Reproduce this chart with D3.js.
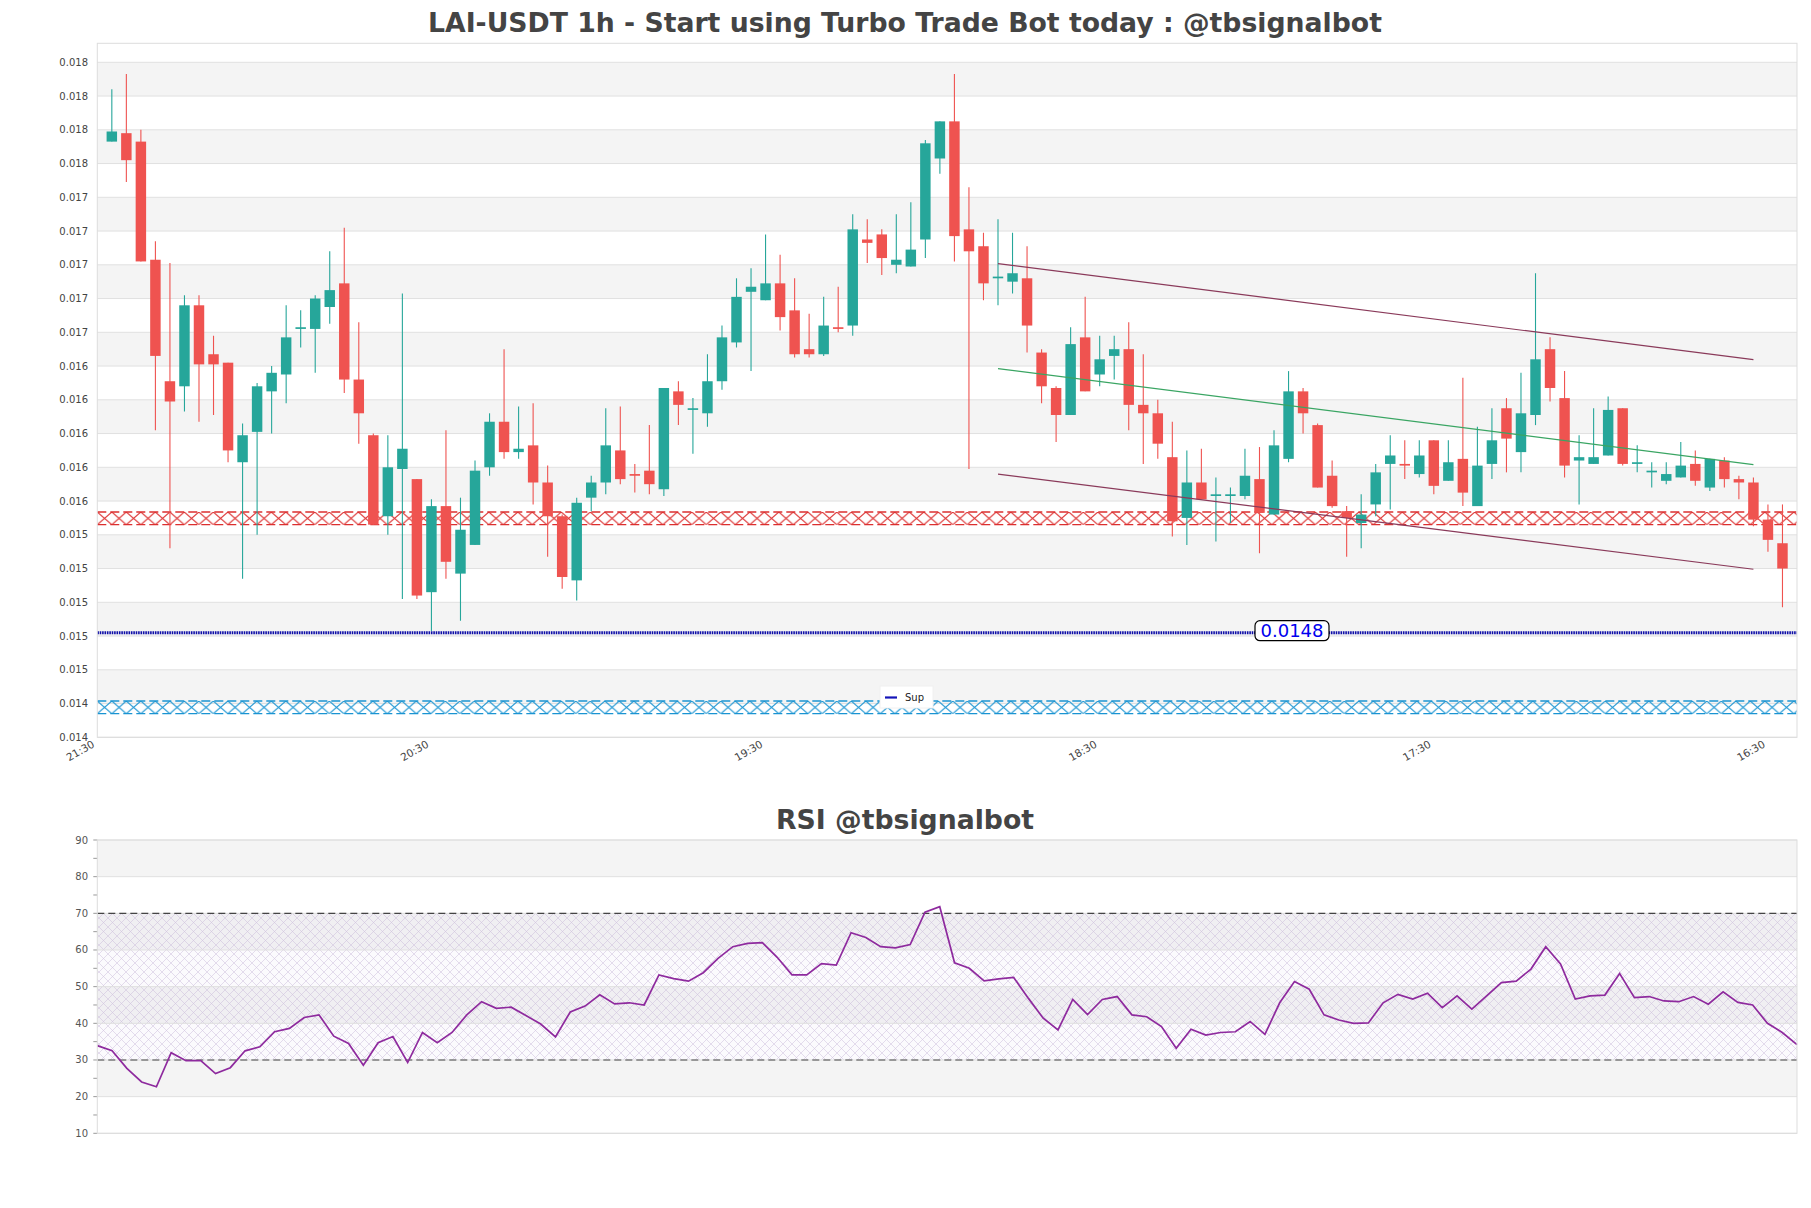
<!DOCTYPE html>
<html><head><meta charset="utf-8">
<script src="https://cdn.jsdelivr.net/npm/d3@7"></script>
<style>
html,body{margin:0;padding:0;background:#fff;}
svg{display:block;font-family:"DejaVu Sans",sans-serif;}
</style></head><body>
<svg id="c" width="1811" height="1208"></svg>
<script>
// ---------- DATA ----------
const openV = [0.01771,0.01776,0.01771,0.01701,0.01629,0.01626,0.01674,0.01645,0.01640,0.01581,
0.01599,0.01623,0.01633,0.01660,0.01660,0.01673,0.01687,0.01630,0.01597,0.01549,
0.01577,0.01571,0.01504,0.01555,0.01515,0.01532,0.01578,0.01605,0.01587,0.01591,
0.01569,0.01549,0.01511,0.01560,0.01569,0.01588,0.01574,0.01576,0.01565,0.01623,
0.01612,0.01610,0.01629,0.01652,0.01682,0.01677,0.01687,0.01671,0.01648,0.01645,
0.01661,0.01662,0.01713,0.01716,0.01698,0.01697,0.01713,0.01761,0.01783,0.01719,
0.01709,0.01690,0.01688,0.01690,0.01646,0.01625,0.01609,0.01655,0.01633,0.01644,
0.01648,0.01615,0.01610,0.01584,0.01548,0.01569,0.01561,0.01561,0.01561,0.01571,
0.01550,0.01583,0.01623,0.01603,0.01573,0.01552,0.01545,0.01556,0.01580,0.01580,
0.01574,0.01594,0.01570,0.01583,0.01555,0.01580,0.01613,0.01587,0.01609,0.01648,
0.01619,0.01582,0.01580,0.01585,0.01613,0.01580,0.01575,0.01570,0.01572,0.01580,
0.01566,0.01582,0.01571,0.01569,0.01547,0.01533];
const highV = [0.01802,0.01811,0.01778,0.01712,0.01699,0.01680,0.01680,0.01656,0.01640,0.01604,
0.01628,0.01638,0.01674,0.01671,0.01680,0.01706,0.01720,0.01664,0.01598,0.01597,
0.01681,0.01571,0.01559,0.01600,0.01560,0.01582,0.01610,0.01648,0.01614,0.01616,
0.01579,0.01550,0.01560,0.01573,0.01613,0.01614,0.01580,0.01603,0.01625,0.01629,
0.01619,0.01645,0.01662,0.01690,0.01696,0.01716,0.01704,0.01690,0.01669,0.01679,
0.01685,0.01728,0.01725,0.01719,0.01728,0.01735,0.01772,0.01783,0.01811,0.01744,
0.01717,0.01725,0.01717,0.01709,0.01648,0.01626,0.01661,0.01679,0.01656,0.01656,
0.01664,0.01645,0.01618,0.01605,0.01588,0.01589,0.01572,0.01566,0.01589,0.01590,
0.01600,0.01635,0.01625,0.01604,0.01582,0.01555,0.01562,0.01580,0.01597,0.01594,
0.01594,0.01594,0.01594,0.01631,0.01602,0.01613,0.01619,0.01634,0.01693,0.01655,
0.01635,0.01597,0.01613,0.01620,0.01613,0.01591,0.01581,0.01581,0.01593,0.01588,
0.01583,0.01584,0.01573,0.01572,0.01556,0.01556];
const lowV = [0.01771,0.01747,0.01700,0.01600,0.01530,0.01611,0.01605,0.01609,0.01581,0.01512,
0.01538,0.01598,0.01616,0.01649,0.01634,0.01663,0.01622,0.01592,0.01544,0.01538,
0.01500,0.01500,0.01481,0.01512,0.01487,0.01532,0.01573,0.01583,0.01583,0.01556,
0.01525,0.01506,0.01499,0.01552,0.01562,0.01568,0.01563,0.01562,0.01561,0.01603,
0.01586,0.01602,0.01624,0.01649,0.01635,0.01677,0.01659,0.01643,0.01643,0.01644,
0.01658,0.01656,0.01699,0.01692,0.01693,0.01697,0.01702,0.01752,0.01700,0.01577,
0.01677,0.01674,0.01681,0.01646,0.01616,0.01593,0.01609,0.01623,0.01626,0.01630,
0.01600,0.01580,0.01583,0.01537,0.01532,0.01559,0.01534,0.01545,0.01559,0.01527,
0.01550,0.01581,0.01598,0.01566,0.01554,0.01525,0.01530,0.01549,0.01553,0.01571,
0.01572,0.01562,0.01570,0.01555,0.01555,0.01571,0.01575,0.01575,0.01603,0.01617,
0.01572,0.01556,0.01580,0.01585,0.01579,0.01575,0.01566,0.01568,0.01572,0.01567,
0.01564,0.01566,0.01559,0.01543,0.01528,0.01495];
const closeV = [0.01777,0.01760,0.01700,0.01644,0.01617,0.01674,0.01639,0.01639,0.01588,0.01597,
0.01626,0.01634,0.01655,0.01661,0.01678,0.01683,0.01630,0.01610,0.01544,0.01578,
0.01589,0.01502,0.01555,0.01522,0.01541,0.01576,0.01605,0.01587,0.01589,0.01569,
0.01549,0.01513,0.01557,0.01569,0.01591,0.01571,0.01573,0.01568,0.01625,0.01615,
0.01613,0.01629,0.01655,0.01679,0.01685,0.01687,0.01667,0.01645,0.01645,0.01662,
0.01660,0.01719,0.01711,0.01702,0.01701,0.01707,0.01770,0.01783,0.01715,0.01706,
0.01687,0.01691,0.01693,0.01662,0.01626,0.01609,0.01651,0.01623,0.01642,0.01648,
0.01615,0.01610,0.01592,0.01546,0.01569,0.01559,0.01562,0.01562,0.01573,0.01551,
0.01591,0.01623,0.01610,0.01566,0.01555,0.01548,0.01550,0.01575,0.01585,0.01579,
0.01585,0.01567,0.01581,0.01563,0.01579,0.01594,0.01595,0.01610,0.01642,0.01625,
0.01579,0.01584,0.01584,0.01612,0.01580,0.01581,0.01576,0.01574,0.01579,0.01570,
0.01583,0.01571,0.01569,0.01547,0.01535,0.01518];
const rsiV = [33.9,32.5,27.7,24.0,22.7,32.0,29.8,29.8,26.3,27.9,
32.5,33.6,37.7,38.6,41.6,42.3,36.5,34.5,28.6,34.7,
36.4,29.3,37.5,34.7,37.5,42.3,45.9,44.1,44.4,42.1,
39.8,36.3,43.1,44.7,47.8,45.3,45.6,45.0,53.2,52.2,
51.5,53.8,57.7,60.9,61.8,62.0,58.0,53.2,53.2,56.3,
55.9,64.7,63.4,60.9,60.6,61.5,70.3,71.8,56.5,55.0,
51.6,52.1,52.5,46.8,41.4,38.2,46.5,42.4,46.5,47.3,
42.3,41.8,39.1,33.2,38.4,36.8,37.5,37.7,40.5,37.0,
45.6,51.4,49.3,42.3,40.9,40.0,40.1,45.6,47.9,46.6,
48.2,44.3,47.5,43.9,47.5,51.1,51.5,54.8,60.9,56.2,
46.6,47.5,47.7,53.6,47.0,47.3,46.1,45.9,47.3,45.2,
48.6,45.7,45.0,40.0,37.5,34.2];
const xTickLabels = ["21:30","20:30","19:30","18:30","17:30","16:30"];
const xTickIdx = [-1,22,45,68,91,114];
const yTickValues = [0.01418,0.01438,0.01458,0.01478,0.01498,0.01518,0.01538,0.01558,0.01578,0.01598,
0.01618,0.01638,0.01658,0.01678,0.01698,0.01718,0.01738,0.01758,0.01778,0.01798,0.01818];
const rsiTicks = [10,20,30,40,50,60,70,80,90];
const rsiMinor = [15,25,35,45,55,65,75,85];
const rsiLevels = [30,70];
const supportLevel = 0.0148;
const supportLabel = "0.0148";
const resZone = [0.01544,0.015515];
const supZone = [0.01432,0.014395];
const trendUpper = [[61,0.016987],[113,0.016418]];
const trendMid = [[61,0.016365],[113,0.015796]];
const trendLower = [[61,0.01574],[113,0.015176]];

// ---------- LAYOUT ----------
const svg = d3.select("#c");
const M = {l:97.3, r:1797, t:43.3, b:737.3};
const R = {t:840, b:1133.3};
const GREEN="#26a69a", RED="#ef5350";
const x = d3.scaleLinear().domain([-1,116]).range([M.l,M.r]);
const y = d3.scaleLinear().domain([yTickValues[0], yTickValues[20]]).range([M.b, 62.3]);
const xr = d3.scaleLinear().domain([0,115]).range([M.l,M.r]);
const yr = d3.scaleLinear().domain([10,90]).range([R.b,R.t]);

const defs = svg.append("defs");
function xPattern(id,color,h){
  const p = defs.append("pattern").attr("id",id).attr("patternUnits","userSpaceOnUse")
    .attr("width",14.5).attr("height",h).attr("x",M.l);
  p.append("path").attr("d",`M0,0L14.5,${h}M0,${h}L14.5,0`).attr("stroke",color).attr("stroke-width",1.1).attr("fill","none");
  return p;
}
const rh = y(resZone[0]) - y(resZone[1]);
const sh = y(supZone[0]) - y(supZone[1]);
xPattern("hatchR","#dc2f2f",rh).attr("y",y(resZone[1]));
xPattern("hatchB","#1a94d2",sh).attr("y",y(supZone[1]));
const rp = defs.append("pattern").attr("id","hatchP").attr("patternUnits","userSpaceOnUse").attr("width",9).attr("height",9);
rp.append("path").attr("d","M0,0L9,9M0,9L9,0").attr("stroke","#c8b8d8").attr("stroke-width",0.6).attr("fill","none");
defs.append("clipPath").attr("id","clipM").append("rect").attr("x",M.l).attr("y",M.t).attr("width",M.r-M.l).attr("height",M.b-M.t);

// titles
svg.append("text").attr("x",905).attr("y",32).attr("text-anchor","middle").attr("font-size",26.7).attr("font-weight","bold").attr("fill","#444")
  .text("LAI-USDT 1h - Start using Turbo Trade Bot today : @tbsignalbot");
svg.append("text").attr("x",905).attr("y",829).attr("text-anchor","middle").attr("font-size",26.7).attr("font-weight","bold").attr("fill","#444")
  .text("RSI @tbsignalbot");

// ---------- MAIN PANEL ----------
const gM = svg.append("g");
gM.append("rect").attr("x",M.l).attr("y",M.t).attr("width",M.r-M.l).attr("height",M.b-M.t).attr("fill","#fff");
for(let k=1;k<yTickValues.length-1;k+=2){
  gM.append("rect").attr("x",M.l).attr("width",M.r-M.l)
    .attr("y",y(yTickValues[k+1])).attr("height",y(yTickValues[k])-y(yTickValues[k+1])).attr("fill","#f4f4f4");
}
gM.selectAll("line.grid").data(yTickValues).join("line").attr("class","grid")
  .attr("x1",M.l).attr("x2",M.r).attr("y1",d=>y(d)).attr("y2",d=>y(d)).attr("stroke","#e0e0e0").attr("stroke-width",1);
gM.selectAll("text.ylab").data(yTickValues).join("text").attr("class","ylab")
  .attr("x",88).attr("y",d=>y(d)+3.5).attr("text-anchor","end").attr("font-size",10).attr("fill","#444")
  .text(d=>d3.format(".3f")(d));

// zones
function zone(z,fillId,color){
  gM.append("rect").attr("x",M.l).attr("width",M.r-M.l).attr("y",y(z[1])).attr("height",y(z[0])-y(z[1]))
    .attr("fill",`url(#${fillId})`);
  [z[0],z[1]].forEach(v=>gM.append("line").attr("x1",M.l).attr("x2",M.r).attr("y1",y(v)).attr("y2",y(v))
    .attr("stroke",color).attr("stroke-width",1.3).attr("stroke-dasharray","9,4"));
}
zone(resZone,"hatchR","#dc2f2f");
zone(supZone,"hatchB","#1a94d2");

// support line
gM.append("line").attr("x1",M.l).attr("x2",M.r).attr("y1",y(supportLevel)).attr("y2",y(supportLevel))
  .attr("stroke","#0f0fa8").attr("stroke-width",3).attr("stroke-dasharray","1.6,0.8");

// candles
const cg = gM.append("g").attr("clip-path","url(#clipM)");
const idx = d3.range(openV.length);
const col = i => closeV[i] >= openV[i] ? GREEN : RED;
cg.selectAll("line.wick").data(idx).join("line").attr("class","wick")
  .attr("x1",i=>x(i)).attr("x2",i=>x(i)).attr("y1",i=>y(highV[i])).attr("y2",i=>y(lowV[i]))
  .attr("stroke",col).attr("stroke-width",1.1);
const bw = (x(1)-x(0))*0.72;
cg.selectAll("rect.body").data(idx).join("rect").attr("class","body")
  .attr("x",i=>x(i)-bw/2).attr("width",bw)
  .attr("y",i=>y(Math.max(openV[i],closeV[i])))
  .attr("height",i=>Math.max(1.6, Math.abs(y(openV[i])-y(closeV[i]))))
  .attr("fill",col);

// trendlines
const tl = d3.line().x(d=>x(d[0])).y(d=>y(d[1]));
gM.append("path").attr("d",tl(trendUpper)).attr("stroke","#8a3a5a").attr("stroke-width",1.2).attr("fill","none");
gM.append("path").attr("d",tl(trendLower)).attr("stroke","#8a3a5a").attr("stroke-width",1.2).attr("fill","none");
gM.append("path").attr("d",tl(trendMid)).attr("stroke","#3aa563").attr("stroke-width",1.2).attr("fill","none");

// support label
const ly = y(supportLevel);
gM.append("rect").attr("x",1255).attr("y",ly-12).attr("width",74).attr("height",20).attr("rx",5)
  .attr("fill","#fff").attr("stroke","#000").attr("stroke-width",1.2);
gM.append("text").attr("x",1292).attr("y",ly+4.8).attr("text-anchor","middle").attr("font-size",18).attr("fill","#0000ee").text(supportLabel);

// legend
gM.append("rect").attr("x",880).attr("y",686).attr("width",53).attr("height",22).attr("fill","#fff").attr("stroke","#f0f0f0");
gM.append("line").attr("x1",885).attr("x2",897).attr("y1",697.5).attr("y2",697.5).attr("stroke","#1414b8").attr("stroke-width",2.2);
gM.append("text").attr("x",905).attr("y",701).attr("font-size",10).attr("fill","#222").text("Sup");

// border
gM.append("rect").attr("x",M.l).attr("y",M.t).attr("width",M.r-M.l).attr("height",M.b-M.t).attr("fill","none").attr("stroke","#ddd");

// x tick labels
gM.selectAll("text.xlab").data(xTickIdx).join("text").attr("class","xlab")
  .attr("transform",d=>`translate(${x(d)-2},${M.b+9}) rotate(-30)`)
  .attr("text-anchor","end").attr("font-size",10.5).attr("fill","#444")
  .text((d,i)=>xTickLabels[i]);

// ---------- RSI PANEL ----------
const gR = svg.append("g");
gR.append("rect").attr("x",M.l).attr("y",R.t).attr("width",M.r-M.l).attr("height",R.b-R.t).attr("fill","#fff");
for(let k=1;k<rsiTicks.length-1;k+=2){
  gR.append("rect").attr("x",M.l).attr("width",M.r-M.l).attr("y",yr(rsiTicks[k+1])).attr("height",yr(rsiTicks[k])-yr(rsiTicks[k+1])).attr("fill","#f4f4f4");
}
gR.append("rect").attr("x",M.l).attr("width",M.r-M.l).attr("y",yr(rsiLevels[1])).attr("height",yr(rsiLevels[0])-yr(rsiLevels[1]))
  .attr("fill","rgba(140,110,190,0.035)");
gR.append("rect").attr("x",M.l).attr("width",M.r-M.l).attr("y",yr(rsiLevels[1])).attr("height",yr(rsiLevels[0])-yr(rsiLevels[1]))
  .attr("fill","url(#hatchP)").attr("opacity",0.8);
gR.selectAll("line.grid").data(rsiTicks).join("line").attr("class","grid")
  .attr("x1",M.l).attr("x2",M.r).attr("y1",d=>yr(d)).attr("y2",d=>yr(d)).attr("stroke","#e0e0e0");
gR.selectAll("line.lvl").data(rsiLevels).join("line").attr("class","lvl")
  .attr("x1",M.l).attr("x2",M.r).attr("y1",d=>yr(d)).attr("y2",d=>yr(d)).attr("stroke","#444").attr("stroke-width",1.2).attr("stroke-dasharray","7,4");
gR.selectAll("line.tk").data(rsiTicks.concat(rsiMinor)).join("line").attr("class","tk")
  .attr("x1",M.l-4).attr("x2",M.l).attr("y1",d=>yr(d)).attr("y2",d=>yr(d)).attr("stroke","#999");
gR.selectAll("text.rl").data(rsiTicks).join("text").attr("class","rl")
  .attr("x",88).attr("y",d=>yr(d)+3.5).attr("text-anchor","end").attr("font-size",10).attr("fill","#555").text(d=>d);
gR.append("path").datum(rsiV).attr("d",d3.line().x((d,i)=>xr(i)).y(d=>yr(d)))
  .attr("fill","none").attr("stroke","#8e2a9e").attr("stroke-width",1.7);
gR.append("rect").attr("x",M.l).attr("y",R.t).attr("width",M.r-M.l).attr("height",R.b-R.t).attr("fill","none").attr("stroke","#ddd");
</script>
</body></html>
